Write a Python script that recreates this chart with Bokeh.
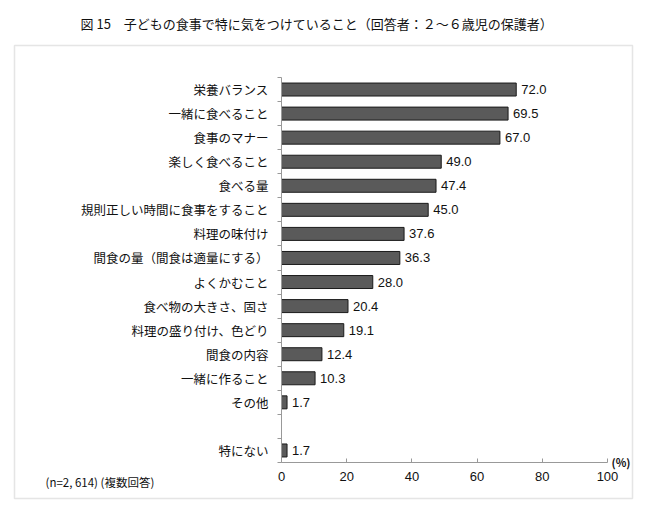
from bokeh.plotting import figure
from bokeh.models import Range1d, FixedTicker, Label, LabelSet, BoxAnnotation, ColumnDataSource
from bokeh.embed import file_html
from bokeh.resources import INLINE
from bokeh.core.properties import value

title_text = "図 15　子どもの食事で特に気をつけていること（回答者：２～６歳児の保護者）"
note_text = "(n=2, 614) (複数回答)"
unit_text = "(%)"

categories = ["栄養バランス", "一緒に食べること", "食事のマナー", "楽しく食べること", "食べる量",
              "規則正しい時間に食事をすること", "料理の味付け", "間食の量（間食は適量にする）",
              "よくかむこと", "食べ物の大きさ、固さ", "料理の盛り付け、色どり", "間食の内容",
              "一緒に作ること", "その他", "", "特にない"]
values = [72.0, 69.5, 67.0, 49.0, 47.4, 45.0, 37.6, 36.3, 28.0, 20.4, 19.1, 12.4, 10.3, 1.7, None, 1.7]
x_ticks = [0, 20, 40, 60, 80, 100]

n = len(categories)
ys = [n - 1 - i for i in range(n)]
bar_y = [y for y, v in zip(ys, values) if v is not None]
bar_v = [v for v in values if v is not None]
src = ColumnDataSource(dict(y=bar_y, v=bar_v, t=["%.1f" % v for v in bar_v]))

JP = "Noto Sans CJK JP"
W, H = 642, 505
# pixel box of the plotting area (axis 0..100 horizontally, rows top..bottom)
PX0, PX1, PY0, PY1 = 281, 607, 77, 462
xmin, xmax = 0, 100
ymin, ymax = -0.5, n - 0.5
sx = (PX1 - PX0) / (xmax - xmin)
sy = (PY1 - PY0) / (ymax - ymin)
x_range = Range1d(xmin - PX0 / sx, xmax + (W - PX1) / sx)
y_range = Range1d(ymin - (H - PY1) / sy, ymax + PY0 / sy)

p = figure(width=W, height=H, output_backend="svg", toolbar_location=None,
           x_range=x_range, y_range=y_range, min_border=0)
p.outline_line_color = None
p.xgrid.visible = False
p.ygrid.visible = False

p.add_layout(BoxAnnotation(left=14, right=632, top=45, bottom=498,
                           left_units="canvas", right_units="canvas", top_units="canvas",
                           bottom_units="canvas", fill_alpha=0, line_color="#aaaaaa",
                           line_width=1.5, level="underlay"))

p.hbar(y="y", right="v", left=0, height=0.54, source=src,
       fill_color="#5a5a5a", line_color="#1a1a1a", line_width=1)

p.add_layout(LabelSet(x="v", y="y", text="t", source=src, x_offset=5,
                      text_baseline="middle", text_font=value("Liberation Sans"),
                      text_font_size=value("13px"), text_color="#111111"))

ya = p.yaxis[0]
ya.fixed_location = xmin
ya.bounds = (ymin, ymax)
ya.ticker = FixedTicker(ticks=ys, minor_ticks=[i - 0.5 for i in range(n + 1)])
ya.major_label_overrides = {y: c for y, c in zip(ys, categories)}
ya.major_tick_line_color = None
ya.major_tick_out = 0
ya.major_tick_in = 0
ya.minor_tick_out = 4
ya.minor_tick_in = 0
ya.minor_tick_line_color = "#999999"
ya.axis_line_color = "#999999"
ya.major_label_standoff = 9
ya.major_label_text_font = JP
ya.major_label_text_font_size = "12.5px"
ya.major_label_text_color = "#111111"

xa = p.xaxis[0]
xa.fixed_location = ymin
xa.bounds = (xmin, xmax)
xa.ticker = FixedTicker(ticks=x_ticks)
xa.major_tick_in = 4
xa.major_tick_out = 0
xa.minor_tick_line_color = None
xa.major_tick_line_color = "#999999"
xa.axis_line_color = "#999999"
xa.major_label_standoff = 9
xa.major_label_text_font = "Liberation Sans"
xa.major_label_text_font_size = "13px"
xa.major_label_text_color = "#111111"

p.add_layout(Label(x=80, y=23, x_units="canvas", y_units="canvas", text=title_text,
                   text_baseline="middle", text_align="left", text_font=JP,
                   text_font_size="13px", text_color="#111111"))
p.add_layout(Label(x=45, y=481, x_units="canvas", y_units="canvas", text=note_text,
                   text_baseline="middle", text_align="left", text_font=JP,
                   text_font_size="11.5px", text_color="#111111"))
p.add_layout(Label(x=611, y=461, x_units="canvas", y_units="canvas", text=unit_text,
                   text_baseline="middle", text_align="left", text_font=JP,
                   text_font_size="11px", text_font_style="bold", text_color="#111111"))

open("out.html", "w").write(file_html(p, INLINE))
